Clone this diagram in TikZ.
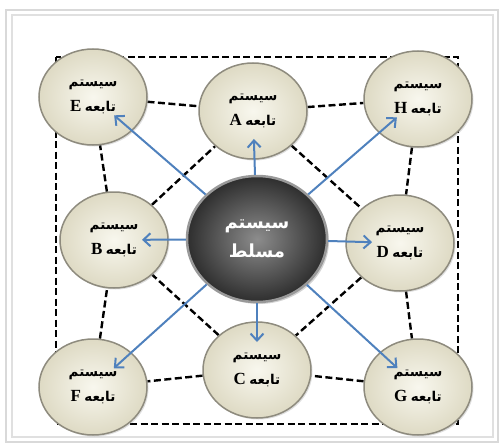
\documentclass[tikz,border=0pt]{standalone}
\usepackage{fontspec}
\setmainfont{Liberation Serif}
\newfontfamily\arabicfont[Script=Arabic]{DejaVu Sans}
\TeXXeTstate=1
\usepackage{tikz}
\usetikzlibrary{arrows.meta, shapes.geometric, backgrounds, shadows}
\definecolor{arrowblue}{HTML}{4F81BD}
\definecolor{platein}{HTML}{F8F7EE}
\definecolor{plateout}{HTML}{DEDAC4}
\definecolor{platerim}{HTML}{8E8B7E}
\definecolor{framegray}{HTML}{D9D9D9}
\newcommand{\fa}[1]{{\arabicfont\bfseries\beginR #1\endR}}
\newcommand{\subtext}[1]{\fa{سیستم}\\{\fontsize{17}{25}\selectfont\bfseries #1}\ \fa{تابعه}}

\begin{document}
\begin{tikzpicture}[x=1pt, y=-1pt,
    sub/.style={ellipse, minimum width=108pt, minimum height=96pt, inner sep=0pt,
      shading=radial, inner color=platein, outer color=plateout,
      draw=platerim, line width=1.5pt, align=center,
      font=\fontsize{13.5}{25}\selectfont,
      drop shadow={opacity=0.25, shadow xshift=1.5pt, shadow yshift=-1.5pt}},
    master/.style={ellipse, minimum width=140pt, minimum height=126pt, inner sep=0pt,
      shading=radial, inner color=black!45, outer color=black!82,
      draw=black!40, line width=2.5pt, align=center, text=white,
      font=\fontsize{18}{29}\selectfont\bfseries,
      drop shadow={opacity=0.35, shadow xshift=2pt, shadow yshift=-2pt}},
    link/.style={line width=2.4pt, dash pattern=on 7pt off 3.5pt},
    feed/.style={arrowblue, line width=2pt, shorten >=28pt,
      -{Straight Barb[length=7pt, width=13pt]}}]
  \useasboundingbox (0,0) rectangle (502,444);
  % Frame
  \draw[framegray, line width=2.5pt] (6,10) rectangle (498,442);
  \draw[black!12, line width=1.5pt] (12,15) rectangle (493,437);

  % Sub systems
  \node[sub] (E) at (93,97)   {\subtext{E}};
  \node[sub] (A) at (253,111) {\subtext{A}};
  \node[sub] (H) at (418,99)  {\subtext{H}};
  \node[sub] (B) at (114,240) {\subtext{B}};
  \node[sub] (D) at (400,243) {\subtext{D}};
  \node[sub] (F) at (93,387)  {\subtext{F}};
  \node[sub] (C) at (257,370) {\subtext{C}};
  \node[sub] (G) at (418,387) {\subtext{G}};

  % Master system
  \node[master] (M) at (257,239)
    {{\arabicfont\beginR سیستم\endR}\\{\arabicfont\beginR مسلط\endR}};

  % Dashed links (behind the plates)
  \begin{scope}[on background layer]
    \draw[link] (56,57) rectangle (458,424);
    \foreach \a/\b in {E/A, A/H, H/D, D/G, G/C, C/F, F/B, B/E, A/D, D/C, C/B, B/A} {
      \draw[link] (\a) -- (\b);
    }
  \end{scope}

  % Arrows from the master
  \foreach \s in {E,A,H,B,D,F,C,G} {
    \draw[feed] (M) -- (\s.center);
  }
\end{tikzpicture}
\end{document}
